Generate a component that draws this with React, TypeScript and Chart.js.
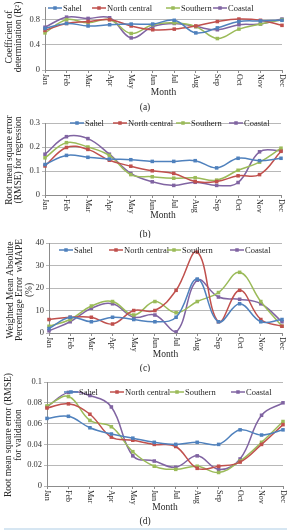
import React, { useEffect, useRef } from "react";
import { Chart, registerables } from "chart.js";

Chart.register(...registerables);

const SERIF = "'Liberation Serif', 'Times New Roman', serif";

const months = ["Jan", "Feb", "Mar", "Apr", "May", "Jun", "Jul", "Aug", "Sep", "Oct", "Nov", "Dec"];
const seriesNames = ["Sahel", "North central", "Southern", "Coastal"];
const seriesColors = ["#4F81BD", "#C0504D", "#9BBB59", "#8064A2"];

// (a) coefficient of determination R²
const r2Sahel = [0.66, 0.74, 0.7, 0.72, 0.73, 0.73, 0.79, 0.59, 0.67, 0.77, 0.78, 0.79];
const r2NorthCentral = [0.63, 0.74, 0.77, 0.8, 0.7, 0.64, 0.65, 0.7, 0.77, 0.81, 0.79, 0.71];
const r2Southern = [0.59, 0.8, 0.75, 0.8, 0.58, 0.72, 0.75, 0.69, 0.5, 0.65, 0.73, 0.8];
const r2Coastal = [0.68, 0.84, 0.82, 0.83, 0.51, 0.69, 0.74, 0.69, 0.64, 0.72, 0.73, 0.81];

// (b) RMSE for regression
const regSahel = [0.127, 0.165, 0.157, 0.15, 0.147, 0.14, 0.14, 0.143, 0.113, 0.153, 0.143, 0.153];
const regNorthCentral = [0.121, 0.198, 0.19, 0.145, 0.12, 0.101, 0.09, 0.056, 0.056, 0.08, 0.085, 0.182];
const regSouthern = [0.155, 0.218, 0.2, 0.165, 0.085, 0.076, 0.07, 0.072, 0.062, 0.103, 0.137, 0.195];
const regCoastal = [0.17, 0.243, 0.235, 0.17, 0.09, 0.055, 0.04, 0.053, 0.04, 0.052, 0.18, 0.185];

// (c) weighted MAPE (%)
const wmapeSahel = [2, 7, 5, 7, 6, 5, 7, 24, 5, 13, 5, 6];
const wmapeNorthCentral = [6, 7, 7, 4, 10, 10, 19, 36, 5, 19, 6, 3];
const wmapeSouthern = [3, 6, 12, 14, 8, 14, 9, 14, 18, 27, 14, 3];
const wmapeCoastal = [1, 5, 11, 13, 7, 8, 0.5, 23.5, 16, 15, 13, 5];

// (d) RMSE for validation
const valSahel = [0.065, 0.067, 0.056, 0.05, 0.046, 0.042, 0.04, 0.042, 0.04, 0.054, 0.049, 0.054];
const valNorthCentral = [0.075, 0.079, 0.069, 0.047, 0.044, 0.04, 0.038, 0.017, 0.019, 0.023, 0.04, 0.059];
const valSouthern = [0.077, 0.086, 0.063, 0.057, 0.033, 0.019, 0.016, 0.019, 0.013, 0.024, 0.042, 0.062];
const valCoastal = [0.076, 0.09, 0.087, 0.076, 0.029, 0.024, 0.018, 0.029, 0.016, 0.026, 0.068, 0.08];

type Panel = {
  top: number;
  height: number;
  plotTop: number;
  plotBottom: number;
  plotLeft: number;
  plotRight: number;
  yMax: number;
  yStep: number;
  yTitle: string[];
  yTitleX: number[];
  yTitleY: number;
  legendY: number;
  legendX: number[];
  monthY: number;
  caption: string;
  captionY: number;
  series: number[][];
};

const panels: Panel[] = [
  {
    top: 0, height: 115, plotTop: 7, plotBottom: 70, plotLeft: 45, plotRight: 282,
    yMax: 1, yStep: 0.2,
    yTitle: ["Coefficient of", "determination (R²)"], yTitleX: [9, 18], yTitleY: 37,
    legendY: 8, legendX: [48, 92, 166, 213],
    monthY: 92, caption: "(a)", captionY: 107,
    series: [r2Sahel, r2NorthCentral, r2Southern, r2Coastal],
  },
  {
    top: 113, height: 125, plotTop: 123, plotBottom: 195, plotLeft: 45, plotRight: 281,
    yMax: 0.3, yStep: 0.05,
    yTitle: ["Root mean square error", "(RMSE) for regression"], yTitleX: [9, 18], yTitleY: 160,
    legendY: 123, legendX: [70, 113, 176, 229],
    monthY: 215, caption: "(b)", captionY: 234,
    series: [regSahel, regNorthCentral, regSouthern, regCoastal],
  },
  {
    top: 236, height: 136, plotTop: 243, plotBottom: 333, plotLeft: 49, plotRight: 282,
    yMax: 40, yStep: 5,
    yTitle: ["Weighted Mean Absolute", "Percentage Error  wMAPE", "(%)"], yTitleX: [10, 19, 29], yTitleY: 290,
    legendY: 250, legendX: [59, 109, 167, 230],
    monthY: 354, caption: "(c)", captionY: 368,
    series: [wmapeSahel, wmapeNorthCentral, wmapeSouthern, wmapeCoastal],
  },
  {
    top: 372, height: 155, plotTop: 382, plotBottom: 486, plotLeft: 47, plotRight: 283,
    yMax: 0.1, yStep: 0.01,
    yTitle: ["Root mean square error (RMSE)", "for validation"], yTitleX: [8, 18], yTitleY: 435,
    legendY: 392, legendX: [64, 110, 170, 231],
    monthY: 507, caption: "(d)", captionY: 521,
    series: [valSahel, valNorthCentral, valSouthern, valCoastal],
  },
];

function decorations(p: Panel) {
  return {
    id: "decorations",
    afterDraw(chart: any) {
      const { ctx, chartArea, scales } = chart;
      const xs = scales.x;
      ctx.save();
      ctx.fillStyle = "#262626";

      // rotated month labels, reading top to bottom
      ctx.font = `8px ${SERIF}`;
      ctx.textAlign = "left";
      ctx.textBaseline = "middle";
      months.forEach((m, i) => {
        ctx.save();
        ctx.translate(xs.getPixelForTick(i), chartArea.bottom + 4);
        ctx.rotate(Math.PI / 2);
        ctx.fillText(m, 0, 0);
        ctx.restore();
      });

      // axis title and caption
      ctx.font = `9.5px ${SERIF}`;
      ctx.textAlign = "center";
      ctx.fillText("Month", (chartArea.left + chartArea.right) / 2, p.monthY - p.top);
      ctx.fillText(p.caption, 145, p.captionY - p.top);

      // vertical y-axis title
      p.yTitle.forEach((line, k) => {
        ctx.save();
        ctx.translate(p.yTitleX[k], p.yTitleY - p.top);
        ctx.rotate(-Math.PI / 2);
        ctx.fillText(line, 0, 0);
        ctx.restore();
      });

      // legend: line with marker, then series name
      ctx.font = `8.5px ${SERIF}`;
      ctx.textAlign = "left";
      const ly = p.legendY - p.top;
      seriesNames.forEach((name, k) => {
        const x0 = p.legendX[k];
        ctx.strokeStyle = seriesColors[k];
        ctx.lineWidth = 1.5;
        ctx.beginPath();
        ctx.moveTo(x0, ly);
        ctx.lineTo(x0 + 14, ly);
        ctx.stroke();
        ctx.fillStyle = seriesColors[k];
        ctx.fillRect(x0 + 5.25, ly - 1.75, 3.5, 3.5);
        ctx.fillStyle = "#262626";
        ctx.fillText(name, x0 + 15, ly + 0.5);
      });
      ctx.restore();
    },
  };
}

function PanelChart({ p }: { p: Panel }) {
  const ref = useRef<HTMLCanvasElement>(null);
  useEffect(() => {
    if (!ref.current) return;
    const chart = new Chart(ref.current, {
      type: "line",
      data: {
        labels: months,
        datasets: p.series.map((values, k) => ({
          label: seriesNames[k],
          data: values,
          borderColor: seriesColors[k],
          backgroundColor: seriesColors[k],
          borderWidth: 1.5,
          tension: 0.4,
          pointStyle: "rect",
          pointRadius: 2.5,
          pointBorderWidth: 0,
          fill: false,
        })),
      },
      options: {
        animation: false,
        responsive: false,
        maintainAspectRatio: false,
        devicePixelRatio: 1,
        layout: {
          padding: {
            top: p.plotTop - p.top,
            left: 0,
            right: 291 - p.plotRight,
            bottom: 0,
          },
        },
        plugins: {
          legend: { display: false },
          tooltip: { enabled: false },
        },
        scales: {
          x: {
            offset: false,
            grid: { drawOnChartArea: false, drawTicks: true, tickLength: 3, color: "#8c8c8c" },
            border: { display: true, color: "#8c8c8c" },
            ticks: { display: false },
            afterFit: (s: any) => {
              s.height = p.top + p.height - p.plotBottom;
            },
          },
          y: {
            min: 0,
            max: p.yMax,
            grid: { color: "#b8b8b8", lineWidth: 1, drawTicks: true, tickLength: 3 },
            border: { display: true, color: "#8c8c8c" },
            ticks: {
              stepSize: p.yStep,
              padding: 2,
              color: "#333",
              font: { family: SERIF, size: 8.5 },
              callback: (v: any) => String(Number(Number(v).toFixed(3))),
            },
            afterFit: (s: any) => {
              s.width = p.plotLeft;
            },
          },
        },
      },
      plugins: [decorations(p)],
    });
    return () => chart.destroy();
  }, [p]);
  return (
    <canvas
      ref={ref}
      width={291}
      height={p.height}
      style={{ position: "absolute", left: 0, top: p.top, width: 291, height: p.height }}
    />
  );
}

export default function App() {
  return (
    <div style={{ position: "absolute", left: 0, top: 0, width: 291, height: 531, background: "#fff" }}>
      {panels.map((p) => (
        <PanelChart key={p.caption} p={p} />
      ))}
      <div style={{ position: "absolute", left: 4, top: 528, width: 283, height: 2, background: "#d6e6f2" }} />
    </div>
  );
}
